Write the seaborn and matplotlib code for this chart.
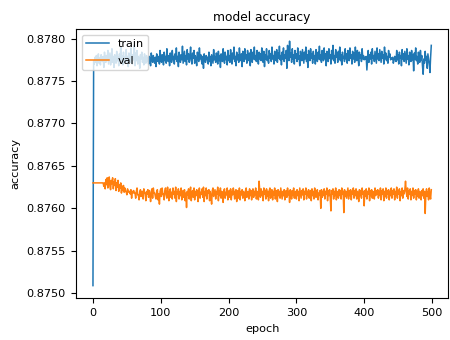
import numpy as np
import pandas as pd
import matplotlib
matplotlib.use("Agg")
import matplotlib.pyplot as plt
from matplotlib.ticker import MultipleLocator, FormatStrFormatter
import seaborn as sns

# accuracy values in units of 1e-5
train_acc_e5 = [
    87509, 87774, 87770, 87778, 87772, 87780, 87768, 87776, 87782, 87771, 87777, 87769, 87781, 87775, 87773, 87779, 87766, 87784, 87776, 87772,
    87780, 87774, 87786, 87770, 87777, 87783, 87769, 87775, 87788, 87772, 87779, 87766, 87781, 87777, 87771, 87785, 87774, 87779, 87768, 87782,
    87776, 87790, 87773, 87780, 87769, 87784, 87775, 87778, 87771, 87787, 87774, 87779, 87767, 87783, 87776, 87772, 87789, 87777, 87770, 87781,
    87775, 87792, 87768, 87783, 87774, 87786, 87770, 87779, 87777, 87765, 87781, 87776, 87784, 87772, 87778, 87769, 87782, 87775, 87771, 87780,
    87773, 87777, 87770, 87779, 87775, 87768, 87783, 87776, 87772, 87780, 87774, 87771, 87778, 87767, 87782, 87776, 87773, 87779, 87770, 87786,
    87775, 87772, 87781, 87777, 87769, 87784, 87774, 87779, 87771, 87788, 87776, 87773, 87780, 87768, 87783, 87777, 87772, 87786, 87775, 87779,
    87770, 87782, 87776, 87789, 87773, 87779, 87767, 87784, 87777, 87772, 87781, 87775, 87791, 87771, 87778, 87785, 87773, 87780, 87769, 87787,
    87776, 87782, 87772, 87779, 87790, 87774, 87770, 87783, 87777, 87786, 87771, 87780, 87775, 87768, 87784, 87778, 87773, 87789, 87776, 87781,
    87774, 87770, 87779, 87765, 87782, 87776, 87772, 87780, 87775, 87778, 87770, 87784, 87773, 87779, 87768, 87781, 87776, 87771, 87787, 87775,
    87779, 87772, 87783, 87777, 87770, 87785, 87774, 87780, 87766, 87782, 87776, 87773, 87788, 87778, 87771, 87784, 87775, 87779, 87769, 87786,
    87774, 87780, 87772, 87787, 87777, 87770, 87783, 87776, 87790, 87773, 87779, 87768, 87784, 87775, 87781, 87772, 87789, 87777, 87774, 87782,
    87767, 87785, 87778, 87773, 87788, 87776, 87781, 87771, 87786, 87779, 87774, 87783, 87768, 87787, 87777, 87772, 87784, 87776, 87790, 87775,
    87780, 87773, 87786, 87777, 87770, 87784, 87776, 87782, 87774, 87789, 87778, 87772, 87785, 87767, 87781, 87776, 87788, 87774, 87779, 87771,
    87786, 87777, 87782, 87773, 87790, 87776, 87780, 87770, 87785, 87778, 87774, 87787, 87772, 87783, 87777, 87791, 87775, 87780, 87769, 87784,
    87776, 87789, 87773, 87781, 87777, 87786, 87765, 87792, 87779, 87774, 87797, 87778, 87783, 87772, 87788, 87776, 87781, 87770, 87786, 87777,
    87782, 87773, 87789, 87776, 87780, 87768, 87785, 87777, 87774, 87787, 87779, 87771, 87784, 87776, 87790, 87773, 87781, 87766, 87786, 87778,
    87774, 87788, 87777, 87782, 87771, 87785, 87776, 87780, 87770, 87787, 87778, 87773, 87784, 87776, 87791, 87775, 87781, 87772, 87786, 87779,
    87774, 87789, 87776, 87782, 87768, 87785, 87778, 87773, 87788, 87777, 87781, 87770, 87786, 87776, 87792, 87774, 87780, 87771, 87787, 87778,
    87783, 87772, 87785, 87776, 87790, 87774, 87781, 87769, 87784, 87777, 87779, 87773, 87788, 87776, 87782, 87771, 87786, 87778, 87774, 87789,
    87777, 87781, 87770, 87785, 87776, 87783, 87772, 87790, 87778, 87774, 87786, 87779, 87768, 87784, 87777, 87781, 87773, 87788, 87776, 87780,
    87775, 87778, 87776, 87779, 87763, 87774, 87786, 87772, 87781, 87776, 87784, 87770, 87788, 87777, 87780, 87773, 87785, 87778, 87771, 87789,
    87776, 87782, 87774, 87787, 87779, 87772, 87785, 87777, 87781, 87770, 87790, 87776, 87783, 87774, 87779, 87771, 87786, 87778, 87782, 87775,
    87777, 87776, 87778, 87771, 87774, 87779, 87777, 87773, 87786, 87775, 87781, 87770, 87784, 87777, 87780, 87768, 87787, 87776, 87782, 87773,
    87785, 87778, 87771, 87788, 87776, 87780, 87769, 87784, 87777, 87773, 87786, 87775, 87781, 87762, 87783, 87776, 87789, 87774, 87779, 87770,
    87784, 87777, 87772, 87786, 87775, 87780, 87768, 87758, 87776, 87771, 87785, 87774, 87779, 87765, 87782, 87776, 87770, 87760, 87778, 87792,
]

val_acc_e5 = [
    87630, 87630, 87630, 87630, 87630, 87630, 87630, 87630, 87630, 87630, 87630, 87630, 87630, 87630, 87630, 87630, 87626, 87630, 87623, 87634,
    87628, 87636, 87624, 87630, 87637, 87626, 87622, 87633, 87629, 87636, 87623, 87631, 87627, 87635, 87621, 87630, 87625, 87633, 87620, 87628,
    87624, 87630, 87618, 87626, 87621, 87627, 87619, 87624, 87620, 87620, 87616, 87623, 87619, 87620, 87620, 87617, 87622, 87612, 87620, 87618,
    87621, 87618, 87618, 87612, 87620, 87624, 87616, 87616, 87610, 87619, 87622, 87614, 87620, 87620, 87611, 87623, 87618, 87618, 87609, 87620,
    87617, 87622, 87613, 87621, 87616, 87608, 87620, 87623, 87612, 87624, 87618, 87618, 87614, 87611, 87620, 87622, 87610, 87617, 87605, 87620,
    87623, 87614, 87624, 87617, 87617, 87610, 87621, 87624, 87616, 87612, 87625, 87618, 87609, 87620, 87623, 87613, 87619, 87611, 87624, 87617,
    87620, 87612, 87625, 87608, 87619, 87617, 87623, 87611, 87620, 87615, 87624, 87610, 87618, 87621, 87613, 87622, 87609, 87618, 87601, 87620,
    87616, 87623, 87611, 87620, 87625, 87609, 87618, 87621, 87613, 87624, 87610, 87620, 87615, 87622, 87618, 87608, 87620, 87624, 87612, 87619,
    87617, 87623, 87613, 87625, 87608, 87620, 87615, 87624, 87611, 87621, 87618, 87622, 87609, 87620, 87614, 87605, 87621, 87624, 87614, 87618,
    87622, 87611, 87620, 87617, 87625, 87609, 87621, 87615, 87624, 87612, 87620, 87618, 87607, 87621, 87623, 87612, 87619, 87616, 87624, 87610,
    87618, 87621, 87613, 87623, 87610, 87620, 87616, 87624, 87618, 87611, 87620, 87622, 87608, 87618, 87621, 87612, 87624, 87610, 87620, 87616,
    87622, 87612, 87620, 87617, 87609, 87621, 87624, 87613, 87618, 87620, 87611, 87623, 87615, 87621, 87610, 87618, 87623, 87613, 87620, 87616,
    87624, 87611, 87620, 87618, 87610, 87632, 87621, 87613, 87623, 87615, 87620, 87609, 87624, 87617, 87621, 87611, 87623, 87614, 87620, 87609,
    87621, 87624, 87612, 87618, 87622, 87610, 87620, 87616, 87624, 87611, 87621, 87618, 87608, 87622, 87615, 87620, 87612, 87624, 87617, 87611,
    87620, 87615, 87622, 87610, 87618, 87621, 87613, 87624, 87616, 87620, 87607, 87622, 87618, 87611, 87621, 87615, 87624, 87612, 87618, 87620,
    87611, 87622, 87615, 87620, 87609, 87624, 87618, 87612, 87621, 87616, 87623, 87610, 87620, 87617, 87624, 87611, 87620, 87615, 87622, 87612,
    87618, 87621, 87609, 87623, 87615, 87620, 87611, 87624, 87617, 87613, 87620, 87622, 87610, 87618, 87616, 87621, 87600, 87622, 87613, 87620,
    87615, 87623, 87611, 87620, 87617, 87624, 87609, 87621, 87615, 87622, 87612, 87597, 87621, 87617, 87623, 87611, 87620, 87615, 87624, 87610,
    87620, 87618, 87612, 87622, 87615, 87621, 87611, 87624, 87617, 87620, 87595, 87622, 87614, 87620, 87612, 87618, 87624, 87611, 87621, 87615,
    87622, 87610, 87620, 87617, 87624, 87612, 87621, 87615, 87623, 87611, 87620, 87618, 87608, 87622, 87615, 87621, 87612, 87624, 87617, 87620,
    87603, 87621, 87614, 87623, 87611, 87620, 87617, 87624, 87609, 87621, 87615, 87622, 87612, 87620, 87618, 87611, 87624, 87615, 87621, 87617,
    87622, 87612, 87620, 87615, 87624, 87610, 87621, 87617, 87623, 87609, 87620, 87614, 87624, 87612, 87621, 87617, 87622, 87610, 87620, 87615,
    87624, 87612, 87621, 87617, 87623, 87610, 87620, 87615, 87625, 87612, 87621, 87617, 87623, 87609, 87620, 87615, 87624, 87612, 87621, 87617,
    87622, 87632, 87620, 87614, 87624, 87611, 87621, 87617, 87623, 87610, 87620, 87615, 87624, 87612, 87621, 87617, 87622, 87610, 87620, 87614,
    87623, 87612, 87620, 87617, 87610, 87621, 87615, 87623, 87612, 87620, 87594, 87617, 87623, 87614, 87620, 87610, 87624, 87615, 87611, 87622,
]

series_labels = ["train", "val"]
title_text = "model accuracy"
x_label = "epoch"
y_label = "accuracy"

train_acc = np.array(train_acc_e5) / 1e5
val_acc = np.array(val_acc_e5) / 1e5

plt.rcParams["font.family"] = ["DejaVu Sans"]
fig = plt.figure(figsize=(4.5, 3.4), dpi=100)
ax = fig.add_axes([0.169, 0.124, 0.827, 0.791])

sns.lineplot(x=np.arange(len(train_acc)), y=train_acc, ax=ax,
             color="#1f77b4", linewidth=1.1, label=series_labels[0])
sns.lineplot(x=np.arange(len(val_acc)), y=val_acc, ax=ax,
             color="#ff7f0e", linewidth=1.1, label=series_labels[1])

base_fs = 8.1
ax.set_title(title_text, fontsize=8.8)
ax.set_xlabel(x_label, fontsize=base_fs)
ax.set_ylabel(y_label, fontsize=base_fs)
ax.yaxis.set_major_locator(MultipleLocator(0.0005))
ax.yaxis.set_major_formatter(FormatStrFormatter("%.4f"))
ax.xaxis.set_major_locator(MultipleLocator(100))
ax.tick_params(labelsize=base_fs, length=3.5, width=0.8, pad=4)
for s in ax.spines.values():
    s.set_linewidth(0.8)
ax.legend(loc="upper left", fontsize=base_fs, framealpha=0.8, labelspacing=0.6)

fig.savefig("out.png", dpi=100)
